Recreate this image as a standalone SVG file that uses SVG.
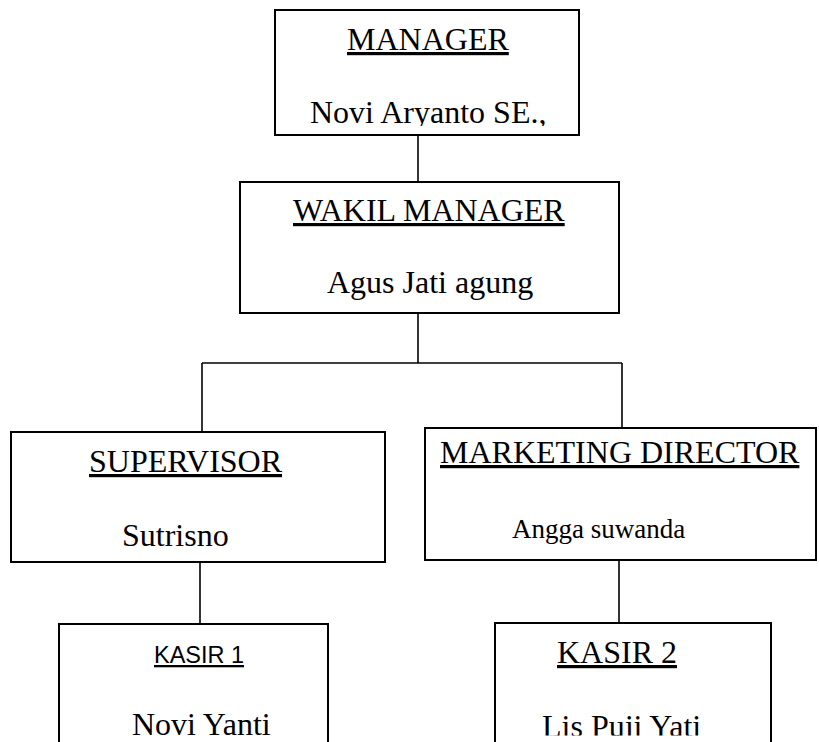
<svg xmlns="http://www.w3.org/2000/svg" width="819" height="742" viewBox="0 0 819 742">
<style>
.box{fill:#fff;stroke:#000;stroke-width:2}
.ln{stroke:#000;stroke-width:1.6;fill:none}
.t{font-family:"Liberation Serif","Times New Roman",serif;font-size:32px;fill:#000}
.u{text-decoration:underline}
.s{font-family:"Liberation Sans",Arial,sans-serif;font-size:23px;fill:#000}
</style>
<defs>
<clipPath id="c1"><rect x="275" y="10" width="304" height="116"/></clipPath>
<clipPath id="c2"><rect x="0" y="600" width="819" height="135.5"/></clipPath>
</defs>
<rect width="819" height="742" fill="#fff"/>
<g id="connectors">
<line class="ln" x1="418" y1="135" x2="418" y2="182"/>
<line class="ln" x1="418" y1="313" x2="418" y2="363"/>
<line class="ln" x1="202" y1="363" x2="622" y2="363"/>
<line class="ln" x1="202" y1="363" x2="202" y2="432"/>
<line class="ln" x1="622" y1="363" x2="622" y2="428"/>
<line class="ln" x1="200" y1="562" x2="200" y2="624"/>
<line class="ln" x1="619" y1="560" x2="619" y2="623"/>
</g>
<g id="manager">
<rect class="box" x="275" y="10" width="304" height="125"/>
<text class="t u" x="347" y="50">MANAGER</text>
<text class="t" x="310" y="123" clip-path="url(#c1)">Novi Aryanto SE.,</text>
</g>
<g id="wakil-manager">
<rect class="box" x="240" y="182" width="379" height="131"/>
<text class="t u" x="293" y="221">WAKIL MANAGER</text>
<text class="t" x="327" y="293">Agus Jati agung</text>
</g>
<g id="supervisor">
<rect class="box" x="11" y="432" width="374" height="130"/>
<text class="t u" x="89" y="472">SUPERVISOR</text>
<text class="t" x="122" y="546">Sutrisno</text>
</g>
<g id="marketing-director">
<rect class="box" x="425" y="428" width="391" height="132"/>
<text class="t u" x="440" y="463">MARKETING DIRECTOR</text>
<text class="t" x="512" y="538" style="font-size:27px">Angga suwanda</text>
</g>
<g id="kasir1">
<rect class="box" x="59" y="624" width="269" height="140"/>
<text class="s u" x="154" y="663" textLength="90" lengthAdjust="spacingAndGlyphs">KASIR 1</text>
<text class="t" x="132" y="735" clip-path="url(#c2)">Novi Yanti</text>
</g>
<g id="kasir2">
<rect class="box" x="495" y="623" width="276" height="140"/>
<text class="t u" x="557" y="663">KASIR 2</text>
<text class="t" x="542" y="737" clip-path="url(#c2)">Lis Puji Yati</text>
</g>
</svg>
